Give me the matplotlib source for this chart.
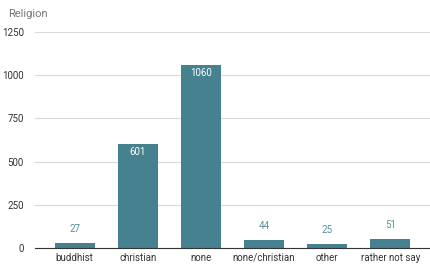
import matplotlib.pyplot as plt

categories = ['buddhist', 'christian', 'none', 'none/christian', 'other', 'rather not say']
counts = [27, 601, 1060, 44, 25, 51]
yticks = [0, 250, 500, 750, 1000, 1250]

plt.rcParams['font.family'] = ['Roboto', 'DejaVu Sans']

fig = plt.figure(figsize=(4.3, 2.66), dpi=100)
ax = fig.add_axes([35 / 430, 1 - 248 / 266, 1 - 35 / 430, (248 - 32) / 266])

bar_color = '#45818e'
x = range(len(categories))
bars = ax.bar(x, counts, width=0.64, color=bar_color, zorder=3)

for b, v in zip(bars, counts):
    cx = b.get_x() + b.get_width() / 2
    if v > 300:
        ax.text(cx, v - 48, str(v), ha='center', va='center', color='white', fontsize=7)
    else:
        ax.text(cx, v + 82, str(v), ha='center', va='center', color='#5a8f9a', fontsize=7)

ax.set_xlim(-0.63, 5.63)
ax.set_ylim(0, 1250)
ax.set_yticks(yticks)
ax.set_xticks(list(x))
ax.set_xticklabels(categories)
ax.tick_params(axis='both', length=0, labelsize=7, colors='#333333')
ax.tick_params(axis='y', pad=8)
ax.grid(axis='y', color='#d9d9d9', linewidth=0.8, zorder=0)
for s in ['top', 'right', 'left']:
    ax.spines[s].set_visible(False)
ax.spines['bottom'].set_color('#333333')
ax.spines['bottom'].set_linewidth(0.8)
ax.spines['bottom'].set_zorder(4)

fig.text(8 / 430, 1 - 14 / 266, 'Religion', fontsize=8, color='#757575', va='center')

fig.savefig('out.png', dpi=100)
